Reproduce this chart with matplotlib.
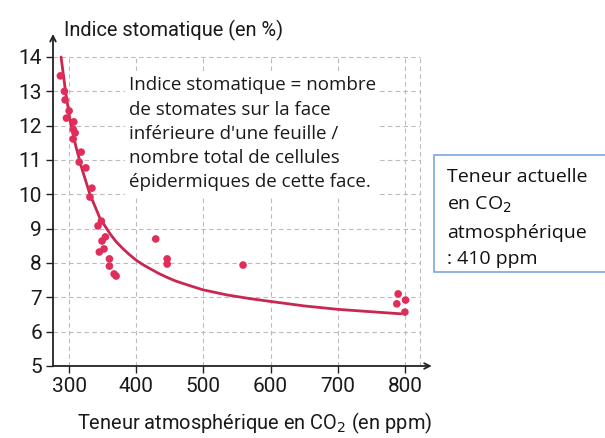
import matplotlib.pyplot as plt
from matplotlib.patches import Rectangle

# measured points (CO2 ppm, stomatal index %)
co2 = [287, 293, 294, 300, 296, 307, 306, 309, 306, 318, 315, 325, 334, 331,
       348, 343, 354, 349, 352, 345, 360, 360, 367, 370,
       429, 446, 446, 559, 790, 801, 788, 800]
indice = [13.45, 13.0, 12.75, 12.43, 12.22, 12.11, 11.9, 11.79, 11.61, 11.23, 10.94, 10.77, 10.18, 9.92,
          9.22, 9.08, 8.76, 8.64, 8.41, 8.32, 8.12, 7.91, 7.68, 7.62,
          8.70, 8.12, 7.97, 7.94, 7.10, 6.92, 6.81, 6.57]

# fitted curve
curve_x = [288, 295, 301, 310, 319, 331, 346, 361, 370, 380, 390, 400, 410, 420, 433, 446,
           458, 470, 499, 535, 570, 600, 650, 700, 750, 794]
curve_y = [14.0, 12.95, 12.2, 11.4, 10.75, 10.0, 9.3, 8.85, 8.62, 8.42, 8.24, 8.08, 7.95, 7.84,
           7.7, 7.58, 7.48, 7.4, 7.22, 7.07, 6.96, 6.88, 6.75, 6.65, 6.58, 6.52]

xticks = [300, 400, 500, 600, 700, 800]
yticks = [5, 6, 7, 8, 9, 10, 11, 12, 13, 14]

axis_font = ['Roboto', 'DejaVu Sans']
text_font = ['Open Sans', 'DejaVu Sans']
red = '#e02d5a'

fig = plt.figure(figsize=(6.05, 4.38), dpi=100)
ax = fig.add_axes([0.0876, 0.1644, 0.626, 0.758])
ax.set_xlim(276, 840)
ax.set_ylim(5, 14.67)

# dashed grid, limited to the data frame
gx_max = 822
ax.hlines(yticks[1:], 276, gx_max, colors='#bbbbbb', linestyles=(0, (4, 3)), lw=0.8, zorder=0)
ax.vlines(xticks + [gx_max], 5, 14, colors='#bbbbbb', linestyles=(0, (4, 3)), lw=0.8, zorder=0)

ax.plot(curve_x, curve_y, color='#c9274f', lw=2, solid_capstyle='round',
        solid_joinstyle='round', zorder=2)
ax.scatter(co2, indice, s=30, color=red, edgecolor='none', zorder=3)

for s in ['top', 'right', 'left', 'bottom']:
    ax.spines[s].set_visible(False)
ax.annotate('', xy=(0, 1), xytext=(0, 0), xycoords='axes fraction',
            arrowprops=dict(arrowstyle='->', color='#222222', lw=1.3, shrinkA=0, shrinkB=0))
ax.annotate('', xy=(1, 0), xytext=(0, 0), xycoords='axes fraction',
            arrowprops=dict(arrowstyle='->', color='#222222', lw=1.3, shrinkA=0, shrinkB=0))

ax.set_xticks(xticks)
ax.set_yticks(yticks)
ax.tick_params(length=5, width=1, color='#222222', labelsize=15, pad=3)
for lab in ax.get_xticklabels() + ax.get_yticklabels():
    lab.set_family(axis_font)
    lab.set_color('#1a1a1a')

fig.text(0.106, 0.93, 'Indice stomatique (en %)', fontsize=14.4, family=axis_font,
         color='#1a1a1a', va='center', ha='left')
fig.text(0.714, 0.034, 'Teneur atmosphérique en CO$_2$ (en ppm)', fontsize=14.4, family=axis_font,
         color='#1a1a1a', va='center', ha='right')

fig.text(0.213, 0.826, "Indice stomatique = nombre\nde stomates sur la face\ninférieure d'une feuille /\n"
         "nombre total de cellules\népidermiques de cette face.",
         fontsize=13.5, family=text_font, color='#1a1a1a', va='top', ha='left', linespacing=1.45,
         bbox=dict(facecolor='white', edgecolor='none', pad=3))

fig.patches.append(Rectangle((434 / 605, 1 - 272 / 438), 0.4, 117 / 438, transform=fig.transFigure,
                             facecolor='white', edgecolor='#7aa7da', lw=1.2))
fig.text(447 / 605, 1 - 218 / 438, 'Teneur actuelle\nen CO$_2$\natmosphérique\n: 410 ppm', fontsize=14,
         family=text_font, color='#111111', va='center', ha='left', linespacing=1.62)

fig.savefig('out.png', dpi=100)
